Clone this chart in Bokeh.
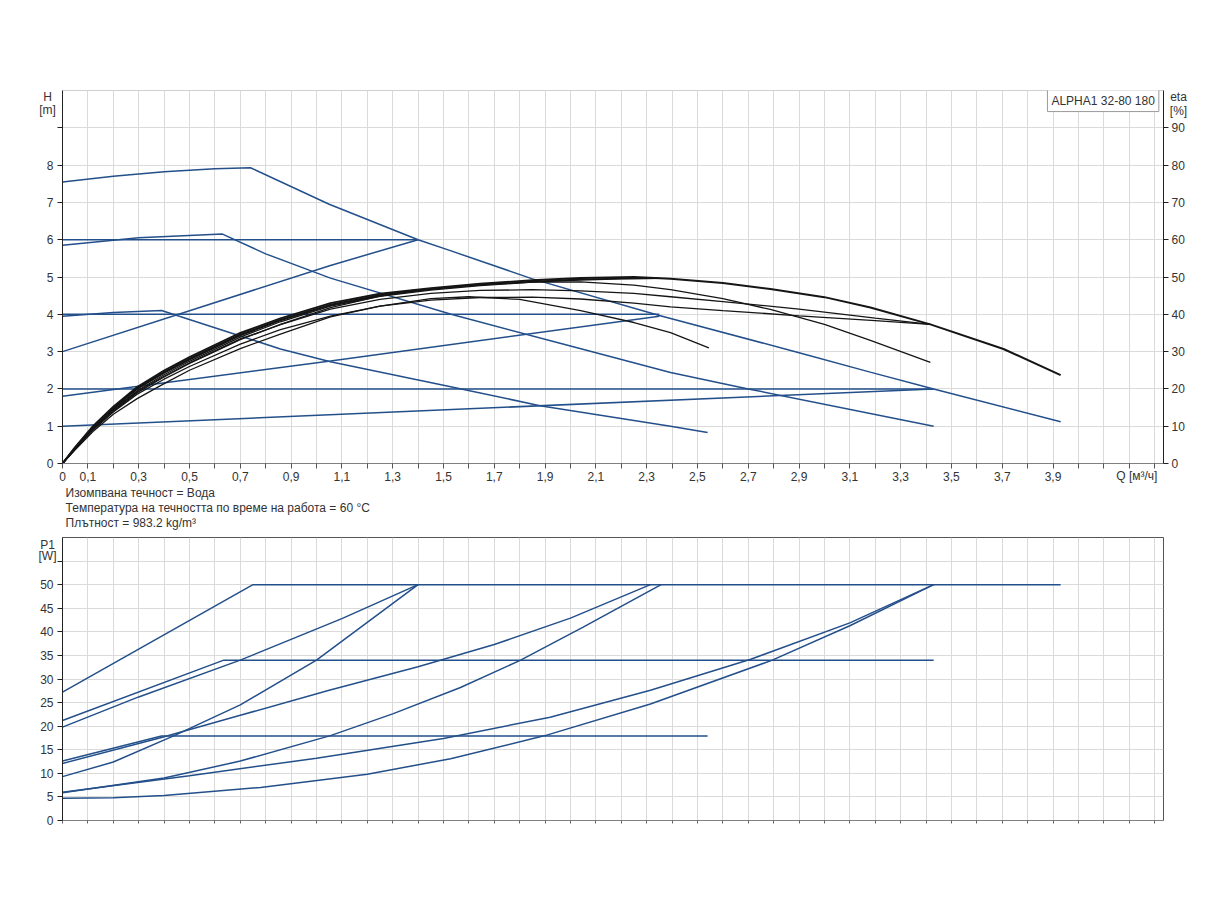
from bokeh.plotting import figure
from bokeh.models import Range1d, LinearAxis, FixedTicker, Label
from bokeh.layouts import column
from bokeh.embed import file_html
from bokeh.resources import INLINE

FONT = "Liberation Sans"
BLUE = "#234f8a"
BLACK = "#151515"
GRID = "#dadada"
TXT = "#333333"

# ---------------- ticks ----------------
Q_TICKS = [0.0, 0.1, 0.2, 0.3, 0.4, 0.5, 0.6, 0.7, 0.8, 0.9, 1.0, 1.1, 1.2, 1.3, 1.4,
           1.5, 1.6, 1.7, 1.8, 1.9, 2.0, 2.1, 2.2, 2.3, 2.4, 2.5, 2.6, 2.7, 2.8, 2.9,
           3.0, 3.1, 3.2, 3.3, 3.4, 3.5, 3.6, 3.7, 3.8, 3.9, 4.0, 4.1, 4.2, 4.3]
Q_TICK_LABELS = ["0", "0,1", "", "0,3", "", "0,5", "", "0,7", "", "0,9", "", "1,1", "", "1,3", "",
                 "1,5", "", "1,7", "", "1,9", "", "2,1", "", "2,3", "", "2,5", "", "2,7", "", "2,9",
                 "", "3,1", "", "3,3", "", "3,5", "", "3,7", "", "3,9", "", "", "", ""]
H_TICKS = [0, 1, 2, 3, 4, 5, 6, 7, 8, 9]
H_TICK_LABELS = ["0", "1", "2", "3", "4", "5", "6", "7", "8", ""]
ETA_TICKS = [0, 10, 20, 30, 40, 50, 60, 70, 80, 90]
P_TICKS = [0, 5, 10, 15, 20, 25, 30, 35, 40, 45, 50, 55]
P_TICK_LABELS = ["0", "5", "10", "15", "20", "25", "30", "35", "40", "45", "50", ""]

# ---------------- H curves (blue) ----------------
MAX_Q = [0, 0.2, 0.4, 0.6, 0.74, 1.05, 1.4, 1.53, 1.85, 2.35, 2.9, 3.18, 3.43, 3.93]
MAX_H = [7.55, 7.70, 7.82, 7.90, 7.93, 6.95, 6.0, 5.7, 4.95, 3.97, 2.97, 2.45, 2.0, 1.12]
MID_Q = [0, 0.3, 0.63, 0.8, 1.055, 1.53, 2.0, 2.394, 2.70, 3.43]
MID_H = [5.85, 6.05, 6.15, 5.62, 4.97, 4.0, 3.15, 2.44, 2.0, 1.0]
LOW_Q = [0, 0.2, 0.39, 0.7, 0.858, 1.055, 1.5, 1.88, 2.394, 2.54]
LOW_H = [3.95, 4.05, 4.1, 3.42, 3.07, 2.73, 2.1, 1.55, 1.0, 0.83]
CP_H = [2.0, 4.0, 6.0]
CP_QEND = [3.43, 2.35, 1.4]
PP1_Q = [0, 3.43]
PP1_H = [1.0, 2.0]
PP2_Q = [0, 1.055, 2.35]
PP2_H = [1.8, 2.75, 3.95]
PP3_Q = [0, 1.055, 1.4]
PP3_H = [3.0, 5.31, 6.0]

# ---------------- eta curves (black), % ----------------
ETA_A_Q = [0, 0.05, 0.12, 0.2, 0.294, 0.4, 0.5, 0.7, 0.858, 1.055, 1.25, 1.45, 1.645, 1.85,
           2.04, 2.25, 2.394, 2.6, 2.787, 3.0, 3.181, 3.417, 3.705, 3.93]
ETA_A = [0, 4.4, 10, 15.2, 20.5, 24.9, 28.5, 35, 38.9, 43, 45.5, 47.0, 48.2, 49.1,
         49.7, 50.0, 49.5, 48.4, 46.8, 44.6, 41.8, 37.3, 30.7, 23.7]
ETA_C_Q = [0, 0.05, 0.12, 0.2, 0.294, 0.4, 0.5, 0.7, 0.858, 1.055, 1.25, 1.45, 1.645, 1.85,
           2.04, 2.25, 2.394, 2.6, 2.787, 3.0, 3.181, 3.417]
ETA_C = [0, 4.2, 9.6, 14.7, 19.9, 24.2, 27.8, 34.3, 38.3, 42.4, 45.0, 46.7, 47.9, 48.6,
         48.7, 47.8, 46.6, 44.2, 41.3, 37.3, 33.0, 27.1]
ETA_B1_Q = [0, 0.05, 0.12, 0.2, 0.294, 0.4, 0.5, 0.7, 0.858, 1.055, 1.25, 1.45, 1.645, 1.85,
            2.04, 2.25, 2.394, 2.6, 2.9, 3.2, 3.417]
ETA_B1 = [0, 4.1, 9.3, 14.3, 19.3, 23.4, 27.0, 33.4, 37.2, 41.4, 44.0, 45.6, 46.4, 46.6,
          46.3, 45.6, 44.7, 43.4, 41.4, 39.0, 37.3]
ETA_B2_Q = [0, 0.05, 0.12, 0.2, 0.294, 0.4, 0.5, 0.7, 0.858, 1.055, 1.25, 1.45, 1.645, 1.85,
            2.04, 2.25, 2.394, 2.6, 2.9, 3.2, 3.417]
ETA_B2 = [0, 3.9, 9.0, 13.8, 18.6, 22.6, 26.0, 32.0, 35.9, 39.5, 42.2, 43.8, 44.5, 44.6,
          44.1, 43.0, 42.0, 41.0, 39.6, 38.3, 37.3]
ETA_D_Q = [0, 0.05, 0.12, 0.2, 0.294, 0.4, 0.5, 0.7, 0.858, 1.055, 1.25, 1.45, 1.6, 1.8,
           2.04, 2.25, 2.394, 2.545]
ETA_D = [0, 3.7, 8.6, 13.2, 17.4, 21.4, 25.0, 30.8, 34.7, 39.3, 42.2, 44.2, 44.7, 44.0,
         41.0, 37.8, 35.1, 31.0]
ETA_E_Q = [0, 0.05, 0.12, 0.2, 0.294, 0.4, 0.5, 0.7, 0.858, 1.055, 1.25, 1.4]
ETA_E1 = [0, 4.3, 9.8, 15.0, 20.2, 24.5, 28.1, 34.6, 38.5, 42.6, 45.2, 46.6]
ETA_E2 = [0, 4.0, 9.2, 14.0, 19.0, 23.2, 26.8, 33.2, 37.3, 41.8, 44.9, 46.6]
ETA_F_Q = [0, 0.05, 0.12, 0.2, 0.294, 0.4, 0.5, 0.7, 0.858, 1.055, 1.25, 1.45, 1.645, 1.85,
           2.04, 2.2, 2.35]
ETA_F1 = [0, 4.2, 9.7, 14.9, 20.1, 24.4, 28.0, 34.5, 38.5, 42.6, 45.1, 46.8, 47.9, 48.8,
          49.4, 49.6, 49.65]
ETA_F2 = [0, 4.0, 9.4, 14.4, 19.5, 23.8, 27.4, 33.9, 38.0, 42.2, 44.8, 46.5, 47.7, 48.6,
          49.2, 49.5, 49.65]

# ---------------- P1 curves (blue), W ----------------
P_MAX_Q = [0, 0.75, 3.93]
P_MAX = [27.2, 50, 50]
P_MID_Q = [0, 0.635, 3.43]
P_MID = [21.2, 34, 34]
P_LOW_Q = [0, 0.39, 2.54]
P_LOW = [12.6, 17.9, 17.9]
P_CP6_Q = [0, 0.3, 0.7, 1.1, 1.4]
P_CP6 = [19.8, 26.2, 34.0, 42.8, 50]
P_PP3_Q = [0, 0.2, 0.44, 0.7, 1.0, 1.4]
P_PP3 = [9.3, 12.4, 18.0, 24.5, 34.0, 50]
P_CP4_Q = [0, 0.39, 0.7, 1.05, 1.4, 1.7, 2.0, 2.315]
P_CP4 = [12.1, 17.6, 22.3, 27.6, 32.6, 37.3, 42.9, 50]
P_PP2_Q = [0, 0.4, 0.7, 1.055, 1.3, 1.567, 1.8, 2.05, 2.357]
P_PP2 = [5.9, 9.0, 12.6, 18.0, 22.6, 28.2, 33.9, 41.0, 50]
P_CP2_Q = [0, 0.5, 1.0, 1.5, 1.92, 2.315, 2.71, 3.10, 3.43]
P_CP2 = [6.0, 9.5, 13.2, 17.4, 21.9, 27.6, 34.2, 41.9, 50]
P_PP1_Q = [0, 0.2, 0.4, 0.78, 1.2, 1.528, 1.90, 2.315, 2.79, 3.10, 3.43]
P_PP1 = [4.7, 4.8, 5.3, 7.0, 9.8, 13.1, 18.0, 24.7, 33.9, 41.3, 50]

INFO_LINES = ["Изомпвана течност = Вода",
              "Температура на течността по време на работа = 60 °C",
              "Плътност = 983.2 kg/m³"]
TITLE = "ALPHA1 32-80 180"
Q_MAX = 4.335


def split_ticks(ticks, labels):
    major = [t for t, l in zip(ticks, labels) if l != ""]
    minor = [t for t, l in zip(ticks, labels) if l == ""]
    overrides = {t: l for t, l in zip(ticks, labels) if l != ""}
    return major, minor, overrides


def style_axis(ax, line_color, tick_color, tick_len=5):
    ax.axis_line_color = line_color
    ax.axis_line_width = 1
    ax.major_tick_line_color = tick_color
    ax.major_tick_out = tick_len
    ax.major_tick_in = 0
    ax.minor_tick_line_color = tick_color
    ax.minor_tick_out = tick_len
    ax.minor_tick_in = 0
    ax.major_label_text_font = FONT
    ax.major_label_text_font_size = "12px"
    ax.major_label_text_color = TXT


def lab(p, place, x, y, text, align="center", baseline="middle"):
    p.add_layout(Label(x=x, y=y, text=text, text_align=align, text_baseline=baseline,
                       text_font=FONT, text_font_size="12px", text_color=TXT), place)


def style_grid(p):
    for g in (p.xgrid[0], p.ygrid[0]):
        g.grid_line_color = GRID
        g.grid_line_width = 1
        g.minor_grid_line_color = GRID
        g.minor_grid_line_width = 1


# ================= top chart =================
top = figure(frame_width=1101, frame_height=373, min_border_left=62, min_border_right=53,
             min_border_top=90, min_border_bottom=74,
             x_range=Range1d(0, Q_MAX), y_range=Range1d(0, 10),
             output_backend="svg", toolbar_location=None)
top.extra_y_ranges = {"eta": Range1d(0, 100)}
top.outline_line_color = "#cfcfcf"

qmaj, qmin, qov = split_ticks(Q_TICKS, Q_TICK_LABELS)
xa = top.xaxis[0]
xa.ticker = FixedTicker(ticks=qmaj, minor_ticks=qmin)
xa.major_label_overrides = qov
style_axis(xa, "#808080", "#555555")
xa.major_label_standoff = 3

hmaj, hmin, hov = split_ticks(H_TICKS, H_TICK_LABELS)
ya = top.yaxis[0]
ya.ticker = FixedTicker(ticks=hmaj, minor_ticks=hmin)
style_axis(ya, "#222222", "#222222")
ya.major_label_standoff = 4

ra = LinearAxis(y_range_name="eta", ticker=FixedTicker(ticks=ETA_TICKS))
style_axis(ra, "#222222", "#222222")
ra.major_label_standoff = 3
top.add_layout(ra, "right")
style_grid(top)

# blue H curves
for qs, hs in ((MAX_Q, MAX_H), (MID_Q, MID_H), (LOW_Q, LOW_H),
               (PP1_Q, PP1_H), (PP2_Q, PP2_H), (PP3_Q, PP3_H)):
    top.line(qs, hs, line_color=BLUE, line_width=1.5)
for h, qe in zip(CP_H, CP_QEND):
    top.line([0, qe], [h, h], line_color=BLUE, line_width=1.5)

# black eta curves
for qs, es in ((ETA_D_Q, ETA_D), (ETA_B2_Q, ETA_B2), (ETA_B1_Q, ETA_B1),
               (ETA_E_Q, ETA_E2), (ETA_E_Q, ETA_E1), (ETA_F_Q, ETA_F2), (ETA_F_Q, ETA_F1),
               (ETA_C_Q, ETA_C)):
    top.line(qs, es, line_color=BLACK, line_width=1.3, y_range_name="eta")
top.line(ETA_A_Q, ETA_A, line_color=BLACK, line_width=2.0, y_range_name="eta")

# texts outside the frame (side panels => not clipped)
lab(top, "above", -0.059, 9.83, "H")
lab(top, "above", -0.059, 9.47, "[m]")
lab(top, "above", 4.394, 9.83, "eta")
lab(top, "above", 4.394, 9.45, "[%]")
lab(top, "above", 4.23, -0.34, "Q [м³/ч]")
for i, t in enumerate(INFO_LINES):
    lab(top, "below", 0.012, -0.80 - 0.40 * i, t, align="left")
top.add_layout(Label(x=3.878, y=9.73, text=TITLE, text_align="left", text_baseline="middle",
                     text_font=FONT, text_font_size="12px", text_color=TXT,
                     border_line_color="#9a9a9a", border_line_width=1,
                     background_fill_color="white", padding=4))

# ================= bottom chart =================
bot = figure(frame_width=1101, frame_height=283, min_border_left=62, min_border_right=53,
             min_border_top=0, min_border_bottom=30,
             x_range=Range1d(0, Q_MAX), y_range=Range1d(0, 60),
             output_backend="svg", toolbar_location=None)
bot.outline_line_color = "#555555"

bx = bot.xaxis[0]
bx.ticker = FixedTicker(ticks=[], minor_ticks=Q_TICKS)
style_axis(bx, "#808080", "#666666", tick_len=3)

pmaj, pmin, pov = split_ticks(P_TICKS, P_TICK_LABELS)
by = bot.yaxis[0]
by.ticker = FixedTicker(ticks=pmaj, minor_ticks=pmin)
style_axis(by, "#222222", "#222222")
by.major_label_standoff = 4
style_grid(bot)

for qs, ps in ((P_MAX_Q, P_MAX), (P_MID_Q, P_MID), (P_LOW_Q, P_LOW),
               (P_CP6_Q, P_CP6), (P_PP3_Q, P_PP3), (P_CP4_Q, P_CP4),
               (P_PP2_Q, P_PP2), (P_CP2_Q, P_CP2), (P_PP1_Q, P_PP1)):
    bot.line(qs, ps, line_color=BLUE, line_width=1.5)

lab(bot, "left", -0.059, 58.5, "P1")
lab(bot, "left", -0.059, 56.0, "[W]")

page = column(top, bot)
open("out.html", "w").write(file_html(page, INLINE))
